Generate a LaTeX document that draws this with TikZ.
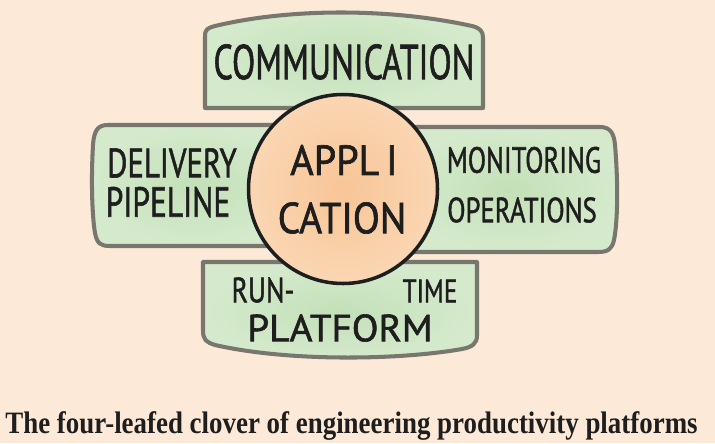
\documentclass[tikz,border=0pt]{standalone}
\usepackage{fontspec}
\usepackage{graphicx}
\setmainfont{Liberation Serif}
\newfontfamily\handfont[FakeBold=1.5]{PT Sans}
\usetikzlibrary{positioning}
\definecolor{Paper}{HTML}{FDE9D7}
\definecolor{Leaf}{HTML}{D5EACD}
\definecolor{LeafDark}{HTML}{C3E0B7}
\definecolor{Rim}{HTML}{77776E}
\definecolor{Core}{HTML}{F8C596}
\definecolor{CoreLight}{HTML}{FAD6B3}
\definecolor{Ink}{HTML}{1E1E1E}
\newlength\pxu
\setlength\pxu{0.5669pt}
% hand lettering squeezed to the measured width / cap height
\newcommand\hand[3]{\resizebox{#1\pxu}{#2\pxu}{\handfont #3}}

\begin{document}
\begin{tikzpicture}[x=0.02cm,y=-0.02cm,
    leaf/.style={draw=Rim,line width=2.3pt,line join=round,
      inner color=LeafDark,outer color=Leaf},
    lbl/.style={inner sep=0pt,text=Ink}
  ]
    \useasboundingbox[fill=Paper] (0,0) rectangle (715,443);
    % the four leaves
    \draw[leaf] (205,108) -- (205,36) .. controls (205,29) and (208,28) .. (215,26)
      .. controls (290,8) and (390,8) .. (472,26)
      .. controls (480,28) and (483,31) .. (483,38) -- (483,108) -- cycle;
    \draw[leaf] (300,125) -- (108,125) .. controls (98,125) and (94,130) .. (93,145)
      .. controls (91,180) and (92,215) .. (95,233)
      .. controls (97,243) and (100,246) .. (110,246) -- (300,246) -- cycle;
    \draw[leaf] (400,127) -- (600,127) .. controls (610,127) and (614,133) .. (615,145)
      .. controls (618,180) and (618,220) .. (614,240)
      .. controls (612,249) and (608,252) .. (598,252) -- (400,252) -- cycle;
    \draw[leaf] (203,262) -- (477,262) -- (477,335)
      .. controls (477,344) and (472,347) .. (462,349)
      .. controls (400,360) and (290,362) .. (215,345)
      .. controls (206,342) and (203,340) .. (203,330) -- cycle;
    % the core
    \draw[draw=Ink,line width=2pt,inner color=Core,outer color=CoreLight]
      (343,189) circle[radius=94.5];
    % texts
    \node[lbl] (comm) at (344,62) {\hand{262}{35}{COMMUNICATION}};
    \node[lbl] (deliv) at (172,163) {\hand{130}{29}{DELIVERY}};
    \node[lbl] (pipe) at (168,202) {\hand{125}{30}{PIPELINE}};
    \node[lbl] (appli) at (344,160) {\hand{108}{30}{APPL\,I}};
    \node[lbl] (cation) at (342,218) {\hand{129}{31}{CATION}};
    \node[lbl] (monit) at (524,160) {\hand{155}{26}{MONITORING}};
    \node[lbl] (oper) at (522,210) {\hand{150}{25}{OPERATIONS}};
    \node[lbl] (run) at (263,290) {\hand{63}{25}{RUN-}};
    \node[lbl] (time) at (430,291) {\hand{55}{23}{TIME}};
    \node[lbl] (platf) at (340,328) {\hand{186}{27}{PLATFORM}};
    \node[lbl,anchor=base west] (caption) at (5,433)
      {\resizebox{695\pxu}{22\pxu}{\bfseries The four-leafed clover of engineering productivity platforms}};
  \end{tikzpicture}
\end{document}
